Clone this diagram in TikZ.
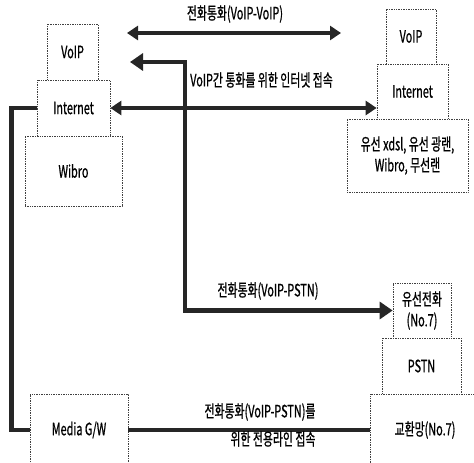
\documentclass[tikz,border=0pt]{standalone}
\usepackage{fontspec}
\setmainfont{Noto Sans CJK KR}[FakeStretch=0.64, FakeBold=0.8]
\usetikzlibrary{arrows.meta}
\tikzset{
  box/.style={draw=black!75, line width=0.7pt, densely dotted, fill=white, inner sep=0pt, align=center, font=\fontsize{17}{21}\selectfont},
  link/.style={line width=4.5pt, draw=black!85},
  dtip/.style={{Triangle[length=11pt,width=14pt]}-{Triangle[length=11pt,width=14pt]}},
  lbl/.style={font=\fontsize{17}{19}\selectfont, inner sep=0pt}
}
\begin{document}
\begin{tikzpicture}[x=1pt,y=-1pt]
\useasboundingbox (0,0) rectangle (474,463);
% left stack
\node[box, minimum width=51pt, minimum height=56pt] (lvoip) at (72.5,52) {VoIP};
\node[box, minimum width=73pt, minimum height=56pt] (linet) at (73.5,108) {Internet};
\node[box, minimum width=97pt, minimum height=70pt] (wibro) at (73.5,171) {Wibro};
% right stack
\node[box, minimum width=50pt, minimum height=55pt] (rvoip) at (411,36.5) {VoIP};
\node[box, minimum width=71pt, minimum height=55pt] (rinet) at (412.5,91.5) {Internet};
\node[box, minimum width=121pt, minimum height=73pt] (racc) at (407.5,155.5) {유선 xdsl, 유선 광랜,\\Wibro, 무선랜};
% PSTN side
\node[box, minimum width=58pt, minimum height=55pt] (wphone) at (422,310.5) {유선전화\\(No.7)};
\node[box, minimum width=79pt, minimum height=56pt] (pstn) at (421.5,366) {PSTN};
\node[box, minimum width=110pt, minimum height=72pt] (exch) at (425,430) {교환망(No.7)};
\node[box, minimum width=98pt, minimum height=72pt] (mgw) at (79,430) {Media G/W};
% connectors
\coordinate (vvl) at (127,33);
\coordinate (vvr) at (341,33);
\draw[link, dtip] (vvl) -- (vvr);
\node[lbl] (vvlbl) at (235,14) {전화통화(VoIP-VoIP)};

\coordinate (acc) at (130,62);
\coordinate (bend) at (185,62);
\draw[link, {Triangle[length=13pt,width=17pt]}-{Triangle[length=13pt,width=17pt]}] (acc) -- (bend) |- (wphone.west);
\node[lbl, anchor=west] (acclbl) at (190,80) {VoIP간 통화를 위한 인터넷 접속};
\node[lbl] (vplbl) at (268,291) {전화통화(VoIP-PSTN)};

\draw[link, dtip] (linet.east) -- (linet.east -| rinet.west);

\draw[link] (linet.west) -- ++(-25,0) |- (mgw.west);
\draw[link] (mgw.east) -- (exch.west);
\node[lbl] (dl1) at (260,412) {전화통화(VoIP-PSTN)를};
\node[lbl] (dl2) at (273,439) {위한 전용라인 접속};
\end{tikzpicture}
\end{document}
